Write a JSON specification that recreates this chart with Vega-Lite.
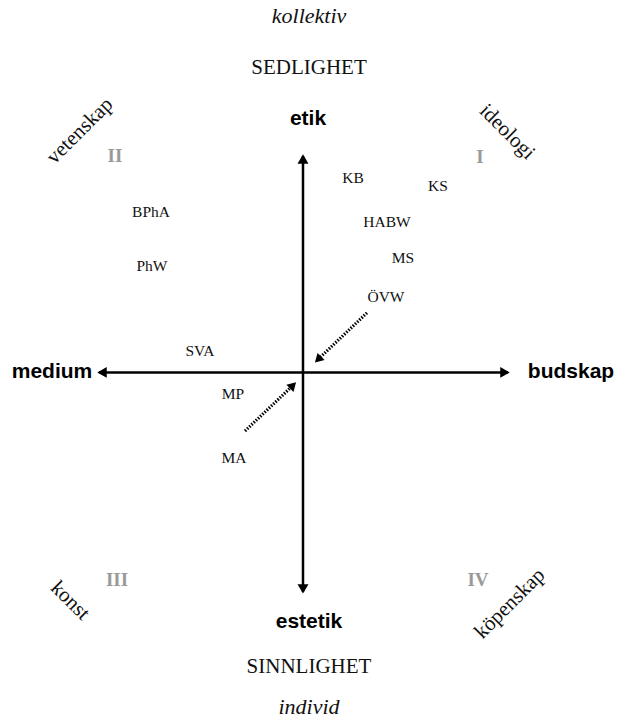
{
  "$schema": "https://vega.github.io/schema/vega-lite/v6.json",
  "width": 618,
  "height": 718,
  "autosize": {"type": "fit", "contains": "padding"},
  "padding": 0,
  "background": "white",
  "config": {"view": {"stroke": null}},
  "datasets": {
    "axes": [
      {"axis": "vertical", "x": 0, "y": 218, "x2": 0, "y2": -221},
      {"axis": "horizontal", "x": -204, "y": 0, "x2": 205, "y2": 0}
    ],
    "axisHeads": [
      {"end": "top", "x": 0, "y": 215, "angle": 0},
      {"end": "bottom", "x": 0, "y": -218, "angle": 180},
      {"end": "left", "x": -201, "y": 0, "angle": 270},
      {"end": "right", "x": 202, "y": 0, "angle": 90}
    ],
    "dotted": [
      {"from": "ÖVW", "x": 64, "y": 60, "x2": 17, "y2": 15},
      {"from": "MA", "x": -58, "y": -59, "x2": -12, "y2": -15}
    ],
    "dottedHeads": [
      {"from": "ÖVW", "x": 15, "y": 13, "angle": 225},
      {"from": "MA", "x": -10, "y": -13, "angle": 45}
    ],
    "italics": [
      {"label": "kollektiv", "x": 6, "y": 359},
      {"label": "individ", "x": 6, "y": -337}
    ],
    "capitals": [
      {"label": "SEDLIGHET", "x": 6, "y": 307},
      {"label": "SINNLIGHET", "x": 6, "y": -297}
    ],
    "poles": [
      {"label": "etik", "x": 5, "y": 255},
      {"label": "estetik", "x": 6, "y": -251},
      {"label": "medium", "x": -251, "y": 0},
      {"label": "budskap", "x": 268, "y": 0}
    ],
    "quadrants": [
      {"label": "I", "x": 177, "y": 217},
      {"label": "II", "x": -188, "y": 218},
      {"label": "III", "x": -186, "y": -209},
      {"label": "IV", "x": 175, "y": -209}
    ],
    "risingLabels": [
      {"label": "vetenskap", "x": -223, "y": 243},
      {"label": "köpenskap", "x": 207, "y": -233}
    ],
    "fallingLabels": [
      {"label": "ideologi", "x": 204, "y": 242},
      {"label": "konst", "x": -233, "y": -230}
    ],
    "codes": [
      {"label": "KB", "x": 50, "y": 196},
      {"label": "KS", "x": 135, "y": 188},
      {"label": "HABW", "x": 84, "y": 151},
      {"label": "MS", "x": 100, "y": 115},
      {"label": "ÖVW", "x": 83, "y": 76},
      {"label": "BPhA", "x": -152, "y": 162},
      {"label": "PhW", "x": -151, "y": 107},
      {"label": "SVA", "x": -103, "y": 22},
      {"label": "MP", "x": -70, "y": -22},
      {"label": "MA", "x": -69, "y": -86}
    ]
  },
  "encoding": {
    "x": {"field": "x", "type": "quantitative", "axis": null, "scale": {"domain": [-303, 315], "nice": false, "zero": false}},
    "y": {"field": "y", "type": "quantitative", "axis": null, "scale": {"domain": [-343, 375], "nice": false, "zero": false}}
  },
  "layer": [
    {
      "data": {"name": "axes"},
      "mark": {"type": "rule", "color": "black", "strokeWidth": 2.5},
      "encoding": {"x2": {"field": "x2"}, "y2": {"field": "y2"}}
    },
    {
      "data": {"name": "axisHeads"},
      "mark": {"type": "point", "shape": "triangle-up", "filled": true, "color": "black", "size": 120, "opacity": 1},
      "encoding": {"angle": {"field": "angle", "type": "quantitative", "scale": null}}
    },
    {
      "data": {"name": "dotted"},
      "mark": {"type": "rule", "color": "black", "strokeWidth": 3.2, "strokeDash": [1.5, 1.5]},
      "encoding": {"x2": {"field": "x2"}, "y2": {"field": "y2"}}
    },
    {
      "data": {"name": "dottedHeads"},
      "mark": {"type": "point", "shape": "triangle-up", "filled": true, "color": "black", "size": 100, "opacity": 1},
      "encoding": {"angle": {"field": "angle", "type": "quantitative", "scale": null}}
    },
    {
      "data": {"name": "italics"},
      "mark": {"type": "text", "font": "Liberation Serif", "fontStyle": "italic", "fontSize": 22, "color": "#111", "baseline": "middle"},
      "encoding": {"text": {"field": "label"}}
    },
    {
      "data": {"name": "capitals"},
      "mark": {"type": "text", "font": "Liberation Serif", "fontSize": 21, "color": "#111", "baseline": "middle"},
      "encoding": {"text": {"field": "label"}}
    },
    {
      "data": {"name": "poles"},
      "mark": {"type": "text", "font": "Liberation Sans", "fontWeight": "bold", "fontSize": 21, "color": "black", "baseline": "middle"},
      "encoding": {"text": {"field": "label"}}
    },
    {
      "data": {"name": "quadrants"},
      "mark": {"type": "text", "font": "Liberation Serif", "fontWeight": "bold", "fontSize": 19, "color": "#9a9a9a", "baseline": "middle"},
      "encoding": {"text": {"field": "label"}}
    },
    {
      "data": {"name": "risingLabels"},
      "mark": {"type": "text", "font": "Liberation Serif", "fontSize": 21, "color": "#111", "baseline": "middle", "angle": 315},
      "encoding": {"text": {"field": "label"}}
    },
    {
      "data": {"name": "fallingLabels"},
      "mark": {"type": "text", "font": "Liberation Serif", "fontSize": 21, "color": "#111", "baseline": "middle", "angle": 45},
      "encoding": {"text": {"field": "label"}}
    },
    {
      "data": {"name": "codes"},
      "mark": {"type": "text", "font": "Liberation Serif", "fontSize": 15.5, "color": "#111", "baseline": "middle"},
      "encoding": {"text": {"field": "label"}}
    }
  ]
}
